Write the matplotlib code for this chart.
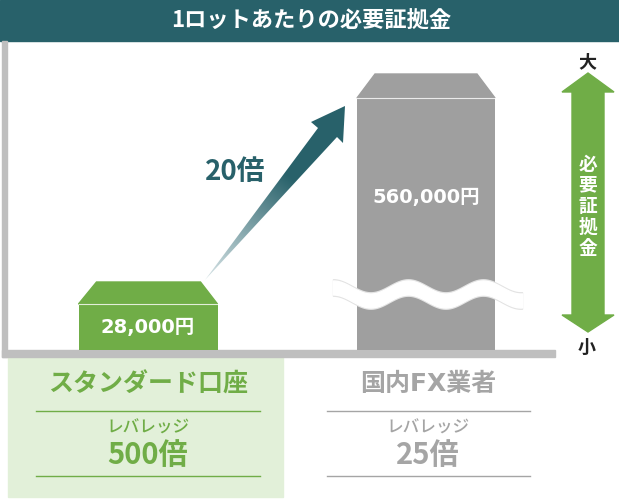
import numpy as np
import matplotlib
matplotlib.use('Agg')
import matplotlib.pyplot as plt
from matplotlib.patches import Polygon, Rectangle

plt.rcParams['font.family'] = ['Noto Sans CJK JP', 'DejaVu Sans']
num_font = ['DejaVu Sans', 'Noto Sans CJK JP']

# data
title = '1ロットあたりの必要証拠金'
categories = ['スタンダード口座', '国内FX業者']
margins = [28000, 560000]
leverage = [500, 25]
axis_label = '必要証拠金'
ratio = margins[1] // margins[0]

teal = '#28616A'
green = '#70AD47'
lightgreen = '#E2F0D9'
gray_bar = '#9F9F9F'
gray_txt = '#A5A5A5'
axis_gray = '#BFBFBF'

fig = plt.figure(figsize=(6.19, 4.99), dpi=100)
ax = fig.add_axes([0, 0, 1, 1])
ax.set_xlim(0, 619)
ax.set_ylim(499, 0)
ax.axis('off')

# title bar
ax.add_patch(Rectangle((0, 0), 619, 41, color=teal, zorder=1))
ax.text(311, 21, title, color='white', fontsize=16, fontweight='bold',
        ha='center', va='center', zorder=5)

# axis lines
ax.add_patch(Rectangle((2, 41), 5, 316, color=axis_gray, zorder=2))
ax.add_patch(Rectangle((2, 350), 553, 7, color=axis_gray, zorder=2))

# boxes (body + roof)
xs = [148, 426]
widths = [139, 138]
tops = [304, 98]
roof_h = [22, 24]
roof_inset = [(18, 17), (18, 18)]
cols = [green, gray_bar]
for i in range(2):
    ax.bar(xs[i], tops[i] - 350, bottom=350, width=widths[i], color=cols[i], zorder=3)
    l = xs[i] - widths[i] / 2
    r = xs[i] + widths[i] / 2
    t = tops[i]
    ax.add_patch(Polygon([(l, t), (l + roof_inset[i][0], t - roof_h[i]),
                          (r - roof_inset[i][1], t - roof_h[i]), (r, t)],
                         closed=True, color=cols[i], zorder=3))
    ax.plot([l, r], [t, t], color='white', lw=0.8, alpha=0.8, zorder=4)

ax.text(xs[0], 328, f'{margins[0]:,}円', color='white', fontsize=14,
        fontweight='bold', family=num_font, ha='center', va='center', zorder=5)
ax.text(xs[1], 197, f'{margins[1]:,}円', color='white', fontsize=14,
        fontweight='bold', family=num_font, ha='center', va='center', zorder=5)

# wave break on the big bar
wx = np.linspace(333, 522, 200)
wtop = 287 - 6.5 * np.cos(2 * np.pi * (wx - 333) / 75)
wbot = wtop + 14
ax.fill_between(wx, wtop - 1.2, wbot + 1.2, color='#E3E3E3', zorder=5)
ax.fill_between(wx, wtop, wbot, color='white', zorder=6)

# gradient arrow
arrow_pts = np.array([(205, 280), (318, 128), (311, 122), (345, 106),
                      (343, 143), (337, 137)])
arrow = Polygon(arrow_pts, closed=True, facecolor='none', edgecolor='none')
ax.add_patch(arrow)
gx, gy = np.meshgrid(np.linspace(200, 350, 150), np.linspace(100, 285, 185))
d = ((gx - 205) * 140 - (gy - 280) * 174) / (140 ** 2 + 174 ** 2)
d = np.clip(d / 0.6, 0, 1)
c0 = np.array([0.85, 0.90, 0.91])
c1 = np.array(matplotlib.colors.to_rgb(teal))
img = c0[None, None, :] * (1 - d[..., None]) + c1[None, None, :] * d[..., None]
im = ax.imshow(img, extent=(200, 350, 285, 100), origin='upper', zorder=4,
               interpolation='bilinear')
im.set_clip_path(arrow)
ax.set_xlim(0, 619)
ax.set_ylim(499, 0)

ax.text(235, 172, f'{ratio}倍', color=teal, fontsize=20, fontweight='bold',
        ha='center', va='center', zorder=5)

# double arrow on the right
ax.add_patch(Polygon([(588, 73), (614, 92), (604, 92), (604, 315), (614, 315),
                      (588, 332), (562, 315), (572, 315), (572, 92), (562, 92)],
                     closed=True, color=green, zorder=3))
for k, ch in enumerate(axis_label):
    ax.text(588, 164 + k * 21, ch, color='white', fontsize=13.5,
            fontweight='bold', ha='center', va='center', zorder=5)
ax.text(587, 62, '大', color='#222222', fontsize=13, fontweight='bold',
        ha='center', va='center')
ax.text(587, 347, '小', color='#222222', fontsize=13, fontweight='bold',
        ha='center', va='center')

# bottom panels
ax.add_patch(Rectangle((8, 357), 275, 140, color=lightgreen, zorder=1))
label_x = [148, 428]
line_span = [(36, 260), (327, 530)]
txt_cols = [green, gray_txt]
for i in range(2):
    fam = num_font if i == 1 else None
    ax.text(label_x[i], 384, categories[i], color=txt_cols[i], fontsize=18,
            fontweight='bold', family=fam, ha='center', va='center', zorder=5)
    for yy in (411, 476):
        ax.plot(line_span[i], [yy, yy], color=txt_cols[i], lw=1, zorder=5)
    ax.text(label_x[i], 428, 'レバレッジ', color=txt_cols[i], fontsize=12,
            fontweight='medium', ha='center', va='center', zorder=5)
    ax.text(label_x[i], 455, f'{leverage[i]}倍', color=txt_cols[i],
            fontsize=21, fontweight='bold', ha='center', va='center', zorder=5)

fig.savefig('out.png', dpi=100)
